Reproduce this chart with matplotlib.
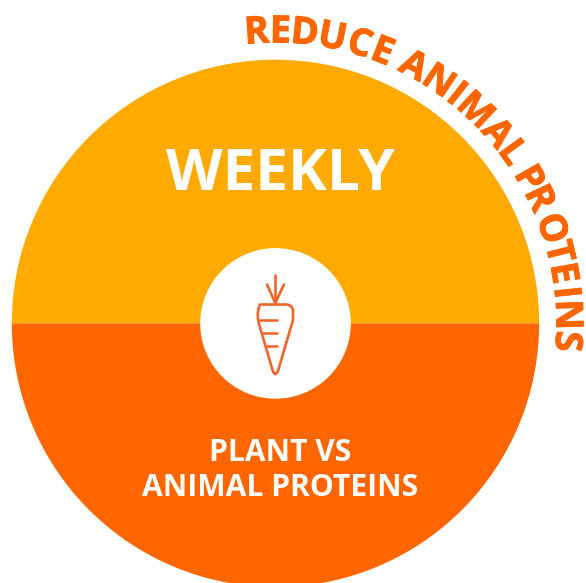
#!/usr/bin/env python3
"""Weekly plant vs animal proteins wheel."""
import numpy as np
import matplotlib
matplotlib.use("Agg")
import matplotlib.pyplot as plt
import matplotlib.patheffects as pe
from matplotlib.patches import Circle, PathPatch
from matplotlib.path import Path
from matplotlib.font_manager import FontProperties
from matplotlib.textpath import TextToPath

W, H = 586, 583
CX, CY, R = 275.5, 323.4, 263.7
FONT = "Open Sans"

shares = [50, 50]
share_colors = ["#FFAA00", "#FF6600"]
center_label = "WEEKLY"
lower_lines = ["PLANT VS", "ANIMAL PROTEINS"]
arc_label = "REDUCE ANIMAL PROTEINS"

fig = plt.figure(figsize=(W / 100, H / 100), dpi=100)
ax = fig.add_axes([0, 0, 1, 1])

# y is inverted below, so clockwise from 0 lands on the top half first
ax.pie(shares, colors=share_colors, center=(CX, CY), radius=R, startangle=0,
       counterclock=False, wedgeprops={"linewidth": 0})
ax.set_xlim(0, W)
ax.set_ylim(H, 0)
ax.set_aspect("equal")
ax.axis("off")

ax.add_patch(Circle((CX, CY), 75.3, fc="white", ec="none", zorder=3))

# px -> pt at dpi 100
ax.text(280, 190, center_label, ha="center", va="baseline", color="white",
        fontsize=58.5 * 0.72, fontweight="bold", family=FONT, zorder=4)
for y, line in zip([461, 496], lower_lines):
    ax.text(280, y, line, ha="center", va="baseline", color="white",
            fontsize=30 * 0.72, fontweight="bold", family=FONT, zorder=4)

# ---- carrot icon ----
CARROT = "#F0652A"
body = Path(
    [(265, 304.5), (286, 304.5), (291, 304.5), (293, 309.5), (293, 315),
     (293, 320), (291.5, 325), (278, 371), (275.4, 377), (272.8, 371),
     (259.3, 325), (257.8, 320), (257.8, 315), (257.8, 309.5), (260, 304.5), (265, 304.5)],
    [Path.MOVETO, Path.LINETO, Path.CURVE3, Path.CURVE3, Path.CURVE3, Path.CURVE3,
     Path.CURVE3, Path.LINETO, Path.CURVE3, Path.CURVE3, Path.LINETO, Path.CURVE3,
     Path.CURVE3, Path.CURVE3, Path.CURVE3, Path.CLOSEPOLY])
ax.add_patch(PathPatch(body, fc="none", ec=CARROT, lw=1.9, zorder=5, joinstyle="round"))
for xs, ys in [([275.3, 275.3], [274.5, 303]), ([267, 275.3], [284.5, 303]),
               ([284, 275.3], [284.5, 303]), ([260, 276.5], [320, 320]),
               ([263, 276.5], [332.5, 332.5]), ([267, 276.5], [346, 346])]:
    ax.plot(xs, ys, color=CARROT, lw=1.9, solid_capstyle="round", zorder=5)

# ---- text round the rim, one letter at a time ----
size_px = 37.5
fp = FontProperties(family=FONT, weight="bold", size=size_px * 0.72)
t2p = TextToPath()
def adv(s):
    return t2p.get_text_width_height_descent(s + ".", fp, False)[0] - \
        t2p.get_text_width_height_descent(".", fp, False)[0]

arc_r = 281.0
a0, a1 = np.radians(-6.2), np.radians(95.6)
scale = (a1 - a0) * arc_r / (adv(arc_label) * 100 / 72)
for i, ch in enumerate(arc_label):
    if ch == " ":
        continue
    mid = adv(arc_label[:i]) + adv(ch) / 2
    t = a0 + (mid * 100 / 72) * scale / arc_r
    ax.text(CX + arc_r * np.sin(t), CY - arc_r * np.cos(t), ch, rotation=-np.degrees(t),
            rotation_mode="anchor", ha="center", va="baseline", color="#FF6600",
            fontproperties=fp, zorder=4,
            path_effects=[pe.withStroke(linewidth=0.7, foreground="#FF6600")])

fig.savefig("out.png", dpi=100)
